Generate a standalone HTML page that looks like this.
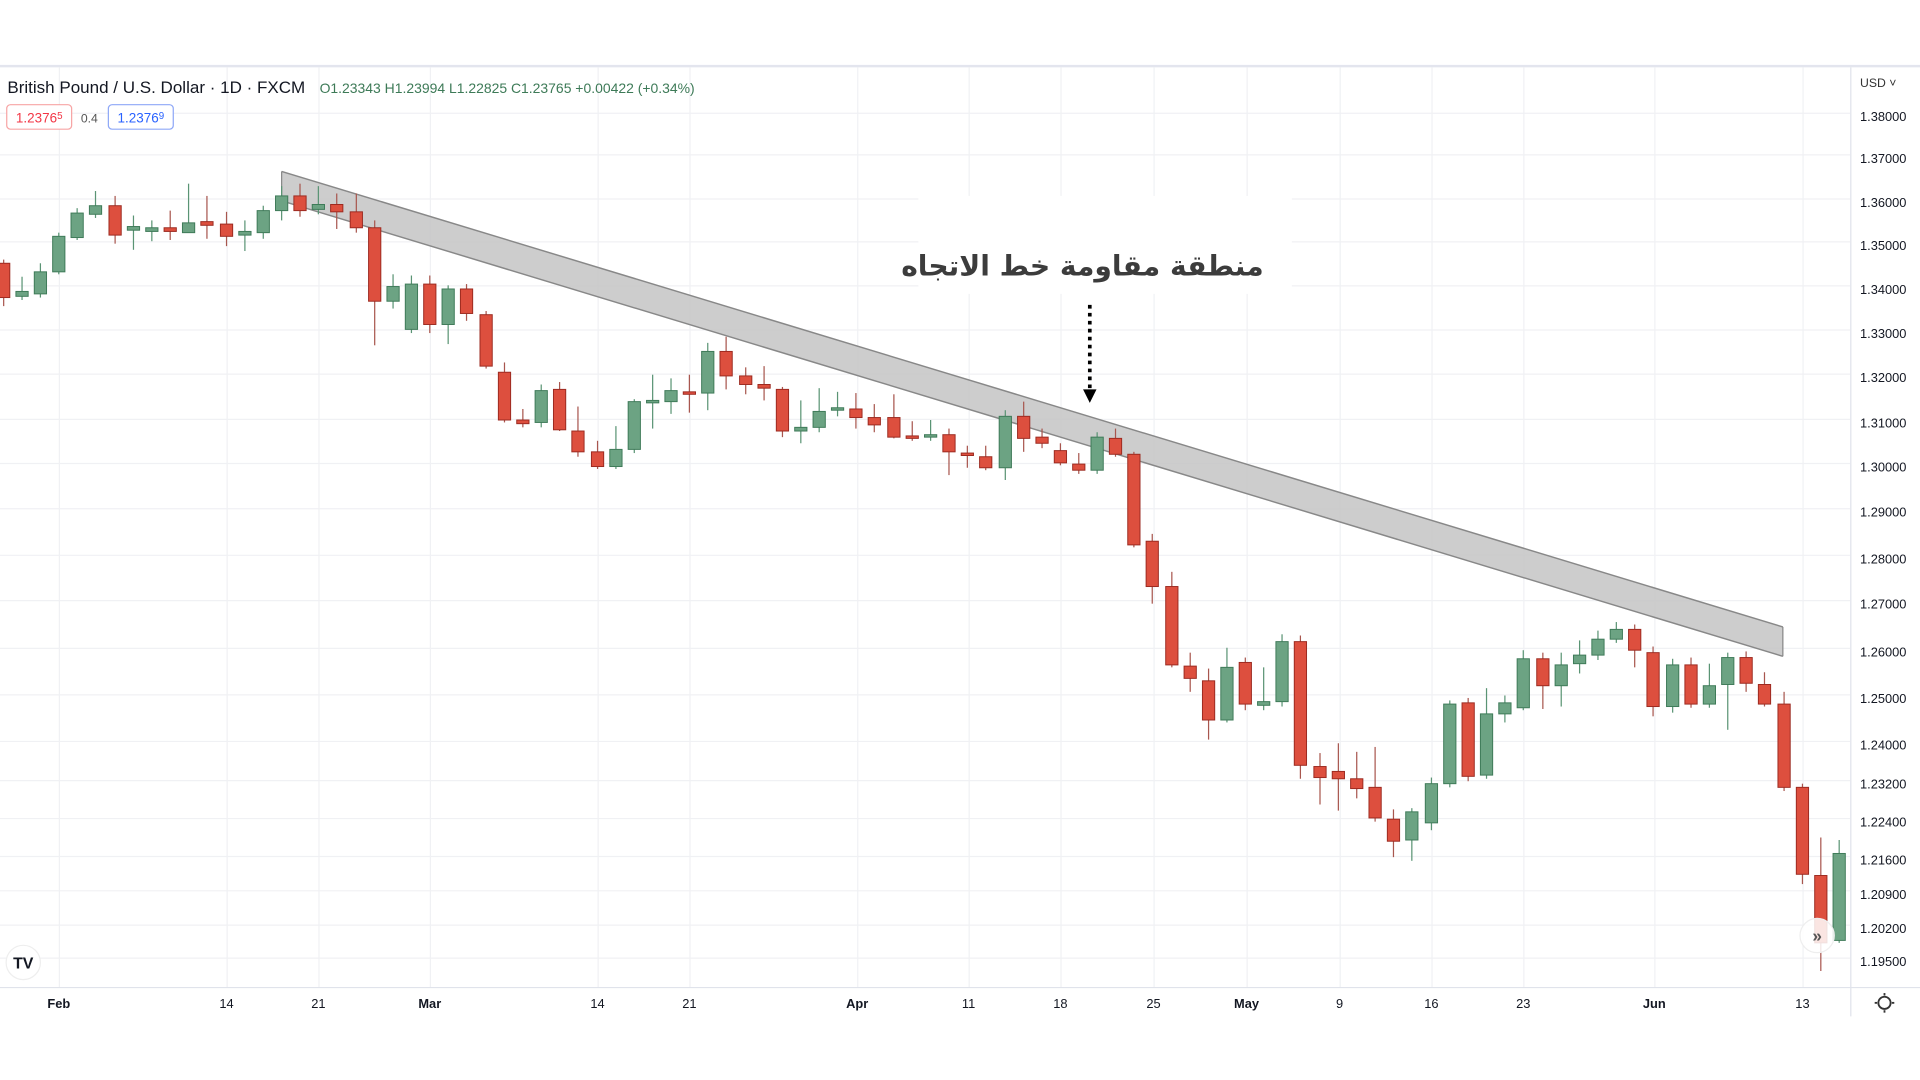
<!DOCTYPE html>
<html><head><meta charset="utf-8">
<style>
html,body{margin:0;padding:0;background:#fff;width:1920px;height:1080px;overflow:hidden}
svg{display:block}
text{font-family:"Liberation Sans","DejaVu Sans",sans-serif}
</style></head><body>
<svg id="s" width="1920" height="1080" viewBox="0 0 1568 882" xmlns="http://www.w3.org/2000/svg">
<rect x="0" y="0" width="1568" height="882" fill="#fff"/>
<rect x="0" y="53" width="1568" height="2" fill="#e3e5ee"/>
<g id="grid"></g>
<line x1="1511.5" y1="55" x2="1511.5" y2="830" stroke="#e0e3eb" stroke-width="1"/>
<line x1="0" y1="806.5" x2="1568" y2="806.5" stroke="#e0e3eb" stroke-width="1"/>
<polygon points="230,140 1456,512 1456,536 230,164" fill="#c4c4c4" fill-opacity="0.85" stroke="none"/>
<line x1="230" y1="140" x2="1456" y2="512" stroke="#888" stroke-width="1.2"/>
<line x1="230" y1="164" x2="1456" y2="536" stroke="#888" stroke-width="1.2"/>
<line x1="230" y1="140" x2="230" y2="164" stroke="#888" stroke-width="1"/>
<line x1="1456" y1="512" x2="1456" y2="536" stroke="#888" stroke-width="1"/>
<g id="candles"></g>
<rect x="750" y="160" width="305" height="80" fill="#fff" opacity="0.95"/>
<text x="884" y="225" text-anchor="middle" font-size="23" font-weight="bold" fill="#3c3c3c" style="font-family:'DejaVu Sans','Noto Sans CJK SC',sans-serif" direction="rtl">منطقة مقاومة خط الاتجاه</text>
<line x1="890" y1="249" x2="890" y2="318" stroke="#000" stroke-width="3" stroke-dasharray="3,3.5"/>
<polygon points="884.5,318 895.5,318 890,329" fill="#000"/>
<text x="6" y="76" font-size="13.9" fill="#131722">British Pound / U.S. Dollar · 1D · FXCM</text>
<text x="261" y="76" font-size="11.4" fill="#3d7a57">O1.23343 H1.23994 L1.22825 C1.23765 +0.00422 (+0.34%)</text>
<rect x="5.5" y="85.5" width="53" height="20" rx="3" fill="#fff" stroke="#f7a5a5"/>
<text x="13" y="100" font-size="11" fill="#f23645">1.2376<tspan font-size="8" dy="-3">5</tspan></text>
<text x="66" y="100" font-size="10" fill="#555">0.4</text>
<rect x="88.5" y="85.5" width="53" height="20" rx="3" fill="#fff" stroke="#8fa8f7"/>
<text x="96" y="100" font-size="11" fill="#2962ff">1.2376<tspan font-size="8" dy="-3">9</tspan></text>
<text x="1519" y="71" font-size="10" fill="#333">USD ˅</text>
<g id="yl"></g>
<g id="xl"></g>
<circle cx="19" cy="786" r="14" fill="#fff" stroke="#eee"/>
<text x="19" y="791" text-anchor="middle" font-size="13" font-weight="bold" fill="#131722">TV</text>
<circle cx="1484" cy="764" r="14" fill="#fff" fill-opacity="0.85" stroke="#eee"/>
<text x="1484" y="769" text-anchor="middle" font-size="14" font-weight="bold" fill="#555">»</text>
<circle cx="1539" cy="819" r="5" fill="none" stroke="#333" stroke-width="1.5"/>
<g stroke="#333" stroke-width="1.5"><line x1="1539" y1="811" x2="1539" y2="813"/><line x1="1539" y1="825" x2="1539" y2="827"/><line x1="1531" y1="819" x2="1533" y2="819"/><line x1="1545" y1="819" x2="1547" y2="819"/></g>
</svg>
<script>
var NS="http://www.w3.org/2000/svg";
function el(p,t,a,tx){var e=document.createElementNS(NS,t);for(var k in a)e.setAttribute(k,a[k]);if(tx)e.textContent=tx;p.appendChild(e);return e;}
var grid=document.getElementById('grid');
var yt=[[96,"1.38000"],[130,"1.37000"],[166,"1.36000"],[201,"1.35000"],[237,"1.34000"],[273,"1.33000"],[309,"1.32000"],[346,"1.31000"],[382,"1.30000"],[419,"1.29000"],[457,"1.28000"],[494,"1.27000"],[533,"1.26000"],[571,"1.25000"],[609,"1.24000"],[641,"1.23200"],[672,"1.22400"],[703,"1.21600"],[731,"1.20900"],[759,"1.20200"],[786,"1.19500"]];
var yl=document.getElementById('yl');
yt.forEach(function(t){el(grid,'line',{x1:0,x2:1511,y1:t[0]-4+.5,y2:t[0]-4+.5,stroke:'#f0f1f4','stroke-width':1});el(yl,'text',{x:1519,y:t[0]+3,'font-size':10.5,fill:'#131722'},t[1]);});
var xt=[[48,"Feb",1],[185,"14"],[260,"21"],[351,"Mar",1],[488,"14"],[563,"21"],[700,"Apr",1],[791,"11"],[866,"18"],[942,"25"],[1018,"May",1],[1094,"9"],[1169,"16"],[1244,"23"],[1351,"Jun",1],[1472,"13"]];
var xl=document.getElementById('xl');
xt.forEach(function(t){el(grid,'line',{x1:t[0]+.5,x2:t[0]+.5,y1:55,y2:806,stroke:'#f0f1f4','stroke-width':1});el(xl,'text',{x:t[0],y:823,'font-size':10.5,'text-anchor':'middle',fill:'#131722','font-weight':t[2]?'600':'normal'},t[1]);});
var C=[
[3,215,243,212,250,'r'],[18,242,238,226,245,'g'],[33,240,222,215,243,'g'],[48,222,193,190,224,'g'],[63,194,174,170,196,'g'],[78,175,168,156,178,'g'],[94,168,192,160,199,'r'],[109,188,185,176,204,'g'],[124,189,186,180,197,'g'],[139,186,189,172,196,'r'],[154,190,182,150,190,'g'],[169,181,184,160,195,'r'],[185,183,193,173,201,'r'],[200,192,189,180,205,'g'],[215,190,172,168,195,'g'],[230,172,160,152,180,'g'],[245,160,172,150,177,'r'],[260,171,167,152,175,'g'],[275,167,173,158,187,'r'],[291,173,186,158,190,'r'],[306,186,246,180,282,'r'],[321,246,234,224,252,'g'],[336,269,232,225,272,'g'],[351,232,265,225,272,'r'],[366,265,236,233,281,'g'],[381,236,256,232,262,'r'],[397,257,299,254,301,'r'],[412,304,343,296,345,'r'],[427,343,346,334,349,'r'],[442,345,319,314,349,'g'],[457,318,351,312,352,'r'],[472,352,369,332,373,'r'],[488,369,381,360,383,'r'],[503,381,367,348,383,'g'],[518,367,328,326,370,'g'],[533,329,327,306,350,'g'],[548,328,319,309,338,'g'],[563,320,322,306,337,'r'],[578,321,287,280,335,'g'],[593,287,307,275,318,'r'],[609,307,314,300,322,'r'],[624,314,317,299,327,'r'],[639,318,352,316,357,'r'],[654,352,349,327,362,'g'],[669,349,336,317,353,'g'],[684,335,333,320,340,'g'],[699,334,341,321,350,'r'],[714,341,347,330,353,'r'],[730,341,357,322,358,'r'],[745,356,358,344,360,'r'],[760,357,355,343,360,'g'],[775,355,369,350,388,'r'],[790,370,372,364,382,'r'],[805,373,382,364,384,'r'],[821,382,340,335,392,'g'],[836,340,358,328,369,'r'],[851,357,362,350,366,'r'],[866,368,378,362,380,'r'],[881,379,384,370,387,'r'],[896,384,357,353,387,'g'],[911,358,371,350,373,'r'],[926,371,445,369,447,'r'],[941,442,479,436,493,'r'],[957,479,543,467,545,'r'],[972,544,554,533,565,'r'],[987,556,588,546,604,'r'],[1002,588,545,529,590,'g'],[1017,541,575,537,580,'r'],[1032,576,573,545,580,'g'],[1047,573,524,518,577,'g'],[1062,524,625,519,636,'r'],[1078,626,635,615,657,'r'],[1093,630,636,607,662,'r'],[1108,636,644,614,652,'r'],[1123,643,668,610,671,'r'],[1138,669,687,661,700,'r'],[1153,686,663,660,703,'g'],[1169,672,640,635,678,'g'],[1184,640,575,572,643,'g'],[1199,574,634,570,638,'r'],[1214,633,583,562,636,'g'],[1229,583,574,568,590,'g'],[1244,578,538,531,580,'g'],[1260,538,560,533,579,'r'],[1275,560,543,533,577,'g'],[1290,542,535,523,550,'g'],[1305,535,522,515,539,'g'],[1320,522,514,508,525,'g'],[1335,514,531,510,545,'r'],[1350,533,577,528,585,'r'],[1366,577,543,538,582,'g'],[1381,543,575,537,578,'r'],[1396,575,560,542,578,'g'],[1411,559,537,533,596,'g'],[1426,537,558,532,565,'r'],[1441,559,575,549,577,'r'],[1457,575,643,565,646,'r'],[1472,643,714,640,722,'r'],[1487,715,770,684,793,'r'],[1502,768,697,686,770,'g']];
var g=document.getElementById('candles');
C.forEach(function(c){var x=c[0],t=Math.min(c[1],c[2]),b=Math.max(c[1],c[2]);if(b-t<2){b=t+2;}
var up=c[5]=='g';var fill=up?'#6ca383':'#dd4f3e',st=up?'#3e7a58':'#9c2a20',wk=up?'#5a9474':'#a8564e';
el(g,'line',{x1:x,x2:x,y1:c[3],y2:c[4],stroke:wk,'stroke-width':1});
el(g,'rect',{x:x-5,y:t,width:10,height:b-t,fill:fill,stroke:st,'stroke-width':0.8});});
</script>
</body></html>
